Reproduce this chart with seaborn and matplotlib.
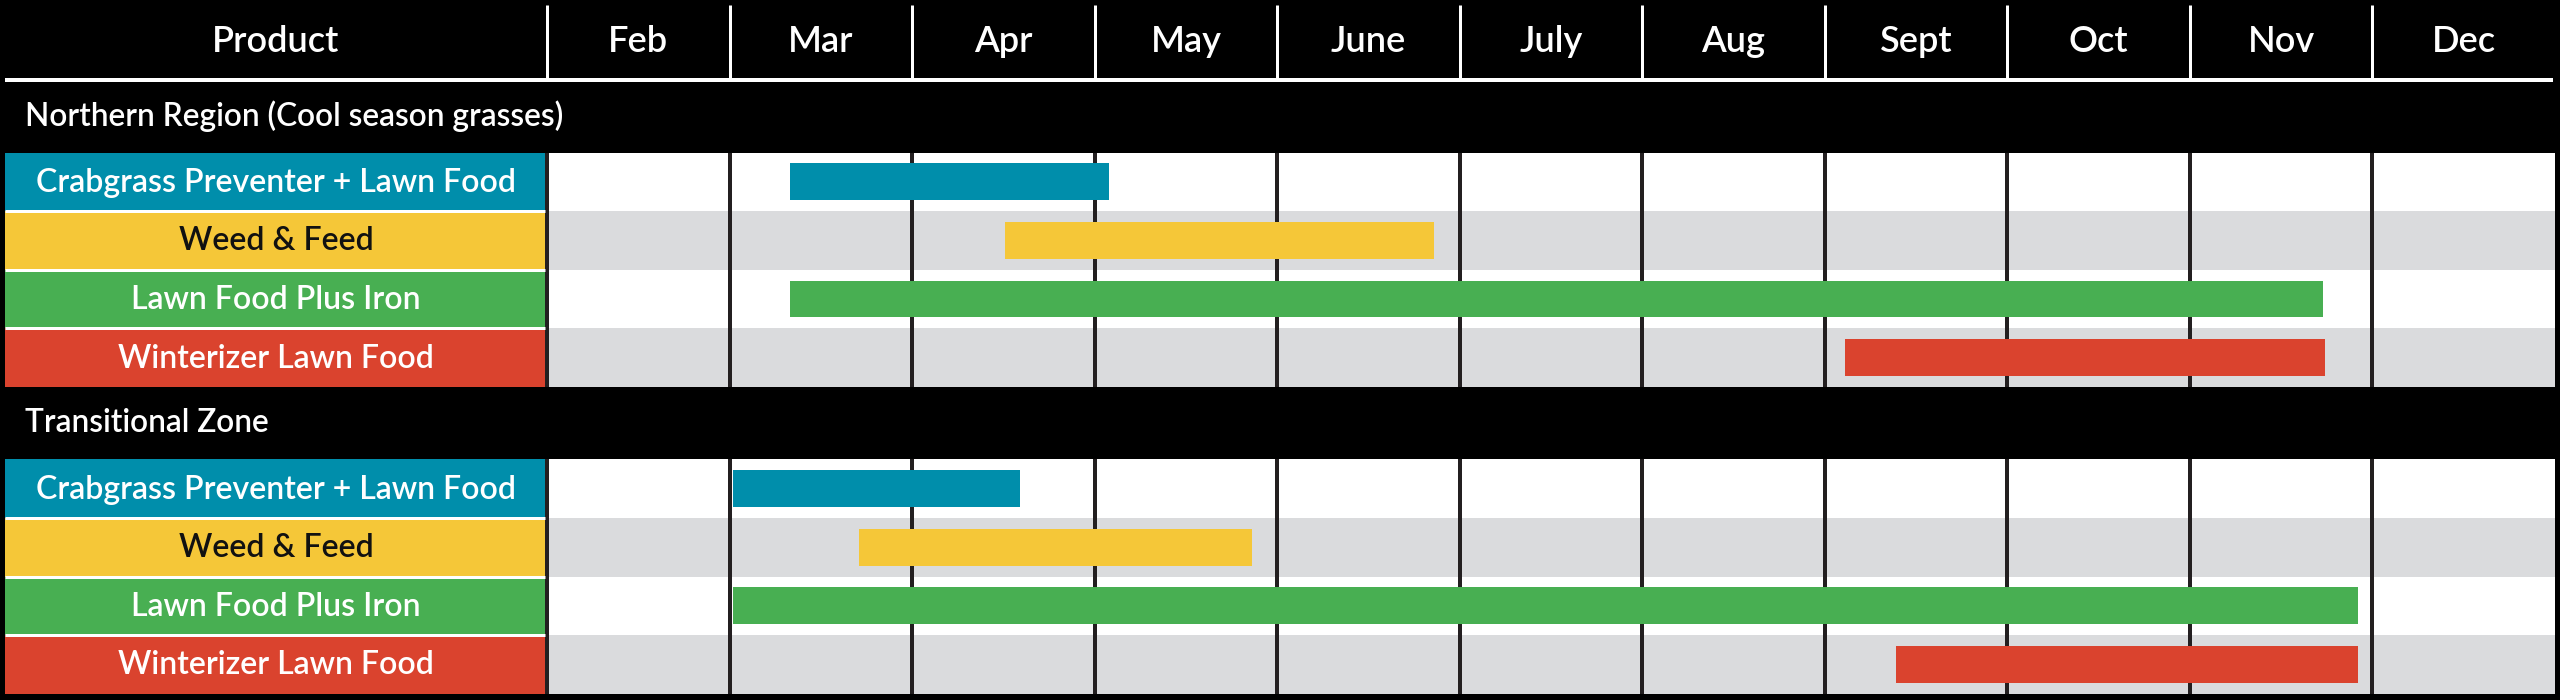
import numpy as np
import pandas as pd
import matplotlib
matplotlib.use("Agg")
import matplotlib.pyplot as plt
import seaborn as sns

# --- données du calendrier ---
months = ["Feb", "Mar", "Apr", "May", "June", "July", "Aug", "Sept", "Oct", "Nov", "Dec"]
products = ["Crabgrass Preventer + Lawn Food", "Weed & Feed",
            "Lawn Food Plus Iron", "Winterizer Lawn Food"]
product_colors = ["#008eab", "#f5c738", "#48af52", "#da432e"]
label_text_colors = ["white", "#111111", "white", "white"]
sections = ["Northern Region (Cool season grasses)", "Transitional Zone"]

# début / fin en mois comptés depuis le 1er février (0 = début Feb, 11 = fin Dec)
northern_start = [1.33, 2.51, 1.33, 7.11]
northern_end = [3.08, 4.86, 9.73, 9.74]
transitional_start = [1.02, 1.71, 1.02, 7.39]
transitional_end = [2.59, 3.86, 9.92, 9.92]

# --- mise en page (pixels) ---
W, H = 2560, 700
MW = 182.55          # largeur d'un mois en px
HEADER_H = 80
SEC_H = 72.5
ROW_H = 58.6
GRAY = "#dadbdd"
DARK = "#231f20"
PT = 0.72            # px -> points à 100 dpi

rows = []
for s, (starts, ends) in enumerate([(northern_start, northern_end),
                                    (transitional_start, transitional_end)]):
    for i, p in enumerate(products):
        rows.append({"section": s, "row": i, "product": p,
                     "start": starts[i], "end": ends[i]})
df = pd.DataFrame(rows)
df["sec_top"] = HEADER_H + df["section"] * (SEC_H + len(products) * ROW_H)
df["y"] = df["sec_top"] + SEC_H + (df["row"] + 0.5) * ROW_H

sns.set_theme(style="white")
plt.rcParams["font.family"] = ["Lato", "DejaVu Sans"]
FW = "semibold"

fig = plt.figure(figsize=(25.6, 7), dpi=100, facecolor="black")
ax = fig.add_axes([0, 0, 1, 1])
ax.set_facecolor("black")
x_left, x_right = -547 / MW, 11 + 5 / MW
label_left = -542 / MW
ax.set_xlim(x_left, x_right)
ax.set_ylim(H, 0)
ax.axis("off")

# lignes alternées blanc / gris
stripe = ["white" if r % 2 == 0 else GRAY for r in df["row"]]
ax.barh(df["y"], len(months), left=0, height=ROW_H, color=stripe, linewidth=0, zorder=1)

# cellules des produits
cell_colors = [product_colors[r] for r in df["row"]]
ax.barh(df["y"], -label_left, left=label_left, height=ROW_H, color=cell_colors,
        linewidth=0, zorder=1)
for _, r in df.iterrows():
    ax.text(label_left / 2, r["y"] + 1, r["product"], ha="center", va="center",
            fontsize=23, fontweight=FW, color=label_text_colors[r["row"]], zorder=4)

# séparateurs verticaux et horizontaux
for sec_top in df["sec_top"].unique():
    top = sec_top + SEC_H
    bottom = top + len(products) * ROW_H
    ax.vlines(np.arange(0, len(months)), top, bottom, color=DARK, lw=4 * PT, zorder=2)
    ax.hlines(top + ROW_H * np.arange(1, len(products)), label_left, -2 / MW,
              color="white", lw=3 * PT, zorder=2)

# barres de période
ax.barh(df["y"], df["end"] - df["start"], left=df["start"], height=0.63 * ROW_H,
        color=cell_colors, linewidth=0, zorder=3)

# en-tête
ax.text(label_left / 2, 42, "Product", ha="center", va="center", fontsize=26,
        fontweight=FW, color="white")
for i, m in enumerate(months):
    ax.text(i + 0.5, 42, m, ha="center", va="center", fontsize=26,
            fontweight=FW, color="white")
ax.vlines(np.arange(0, len(months)), 5, 78, color="white", lw=3 * PT)
ax.hlines(80, label_left, len(months) - 2 / MW, color="white", lw=4 * PT)

# titres des sections
for s, name in enumerate(sections):
    sec_top = HEADER_H + s * (SEC_H + len(products) * ROW_H)
    ax.text(-522 / MW, sec_top + SEC_H / 2, name, ha="left", va="center",
            fontsize=22.8, fontweight=FW, color="white")

plt.savefig("out.png", dpi=100, facecolor="black")
